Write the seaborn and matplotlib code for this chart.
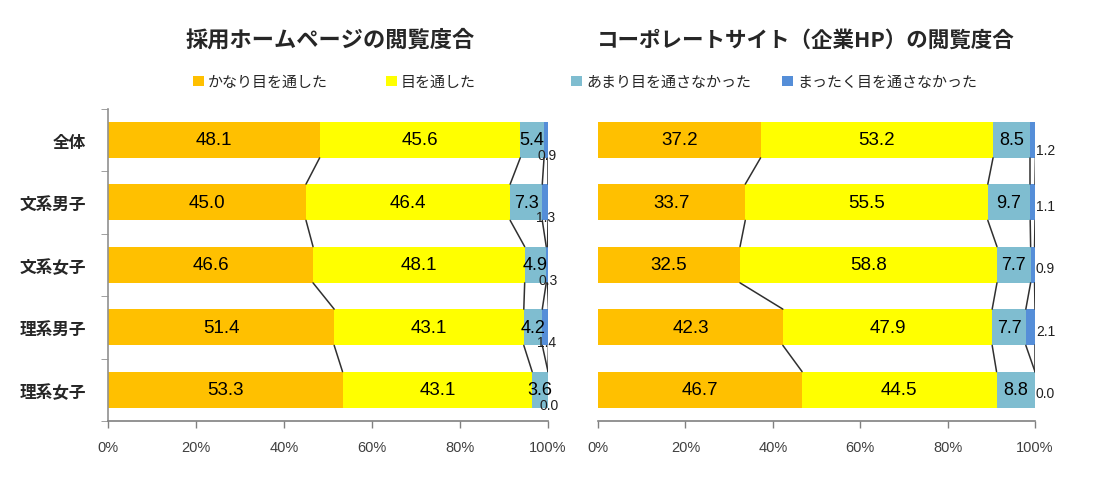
import matplotlib
matplotlib.use("Agg")
import matplotlib.pyplot as plt
import seaborn as sns
import numpy as np
import pandas as pd
from matplotlib.patches import Patch
from matplotlib.ticker import FixedLocator, PercentFormatter

categories = ["全体", "文系男子", "文系女子", "理系男子", "理系女子"]
series_names = ["かなり目を通した", "目を通した", "あまり目を通さなかった", "まったく目を通さなかった"]
colors = ["#FFC000", "#FFFF00", "#7FBDD0", "#558ED8"]

recruit_very = [48.1, 45.0, 46.6, 51.4, 53.3]
recruit_some = [45.6, 46.4, 48.1, 43.1, 43.1]
recruit_little = [5.4, 7.3, 4.9, 4.2, 3.6]
recruit_none = [0.9, 1.3, 0.3, 1.4, 0.0]

corp_very = [37.2, 33.7, 32.5, 42.3, 46.7]
corp_some = [53.2, 55.5, 58.8, 47.9, 44.5]
corp_little = [8.5, 9.7, 7.7, 7.7, 8.8]
corp_none = [1.2, 1.1, 0.9, 2.1, 0.0]

title_left = "採用ホームページの閲覧度合"
title_right = "コーポレートサイト（企業HP）の閲覧度合"
x_ticks = [0, 20, 40, 60, 80, 100]

sns.set_style("white")
plt.rcParams["font.family"] = ["Noto Sans CJK JP", "DejaVu Sans"]

fig = plt.figure(figsize=(10.93, 4.81), dpi=100)
W, H = 1093, 481
ax_l = fig.add_axes([108 / W, 1 - 422 / H, 440 / W, 312.5 / H])
ax_r = fig.add_axes([598 / W, 1 - 422 / H, 437 / W, 312.5 / H])

BAR_H = 0.58
NUM_FONT = ["Liberation Sans", "DejaVu Sans"]


def draw(ax, vals, right):
    arr = np.array(vals, dtype=float)  # 4 x 5
    cum = np.cumsum(arr, axis=0)
    # draw stacked bars from the top of the stack down, overlapping
    for k in range(3, -1, -1):
        df = pd.DataFrame({"cat": categories, "val": cum[k]})
        sns.barplot(data=df, y="cat", x="val", order=categories, color=colors[k],
                    orient="y", width=BAR_H, ax=ax, saturation=1, linewidth=0)
    # series lines
    n = len(categories)
    for k in range(4):
        for i in range(n - 1):
            ax.plot([cum[k][i], cum[k][i + 1]],
                    [i + BAR_H / 2, i + 1 - BAR_H / 2],
                    color="#303030", lw=1.1, zorder=1)
    # labels
    for i in range(n):
        starts = [0] + [cum[k][i] for k in range(3)]
        for k in range(3):
            v = arr[k][i]
            fs = 13.5 if k < 2 else 13
            ax.text(starts[k] + v / 2, i, f"{v:.1f}", ha="center", va="center",
                    fontsize=fs, color="#000000", family=NUM_FONT, zorder=5)
        v4 = arr[3][i]
        if right:
            ax.text(100.2, i + (0.16 if i == 0 else 0.06), f"{v4:.1f}", ha="left",
                    va="center", fontsize=10, color="#202020", family=NUM_FONT, zorder=5)
        else:
            ax.text(starts[3] + v4 / 2 + 0.2, i + 0.24, f"{v4:.1f}", ha="center",
                    va="center", fontsize=10, color="#202020", family=NUM_FONT, zorder=5)

    ax.set_xlim(0, 100)
    ax.set_ylim(n - 0.5, -0.5)
    ax.set_xlabel("")
    ax.set_ylabel("")
    ax.xaxis.set_major_locator(FixedLocator(x_ticks))
    ax.xaxis.set_major_formatter(PercentFormatter(decimals=0))
    ax.tick_params(axis="x", direction="out", length=5, width=1, color="#808080",
                   labelsize=10.5, labelcolor="#404040", pad=9, bottom=True)
    for lab in ax.get_xticklabels():
        lab.set_family(NUM_FONT)
    for s in ["top", "right"]:
        ax.spines[s].set_visible(False)
    ax.spines["bottom"].set_color("#808080")
    ax.spines["bottom"].set_linewidth(1.2)
    if right:
        ax.spines["left"].set_visible(False)
        ax.set_yticks([])
    else:
        ax.spines["left"].set_color("#909090")
        ax.spines["left"].set_linewidth(1.2)
        ax.set_yticks(range(n))
        ax.set_yticklabels(categories, fontsize=12, fontweight="bold")
        ax.yaxis.set_minor_locator(FixedLocator(np.arange(-0.5, n, 1.0)))
        ax.tick_params(axis="y", which="major", length=0, pad=16)
        ax.tick_params(axis="y", which="minor", direction="out", length=5,
                       color="#909090", left=True)


draw(ax_l, [recruit_very, recruit_some, recruit_little, recruit_none], False)
draw(ax_r, [corp_very, corp_some, corp_little, corp_none], True)

fig.text(330 / W, 1 - 40 / H, title_left, ha="center", va="center",
         fontsize=16, fontweight="bold")
fig.text(806 / W, 1 - 40 / H, title_right, ha="center", va="center",
         fontsize=15.5, fontweight="bold")

legend_x = [193, 386, 571, 782]
for name, c, lx in zip(series_names, colors, legend_x):
    fig.legend([Patch(facecolor=c, edgecolor="none")], [name], loc="center left",
               bbox_to_anchor=(lx / W, 1 - 83 / H), frameon=False, fontsize=10.8,
               handlelength=0.7, handleheight=0.7, handletextpad=0.3,
               borderpad=0, borderaxespad=0)

fig.savefig("out.png", dpi=100)
